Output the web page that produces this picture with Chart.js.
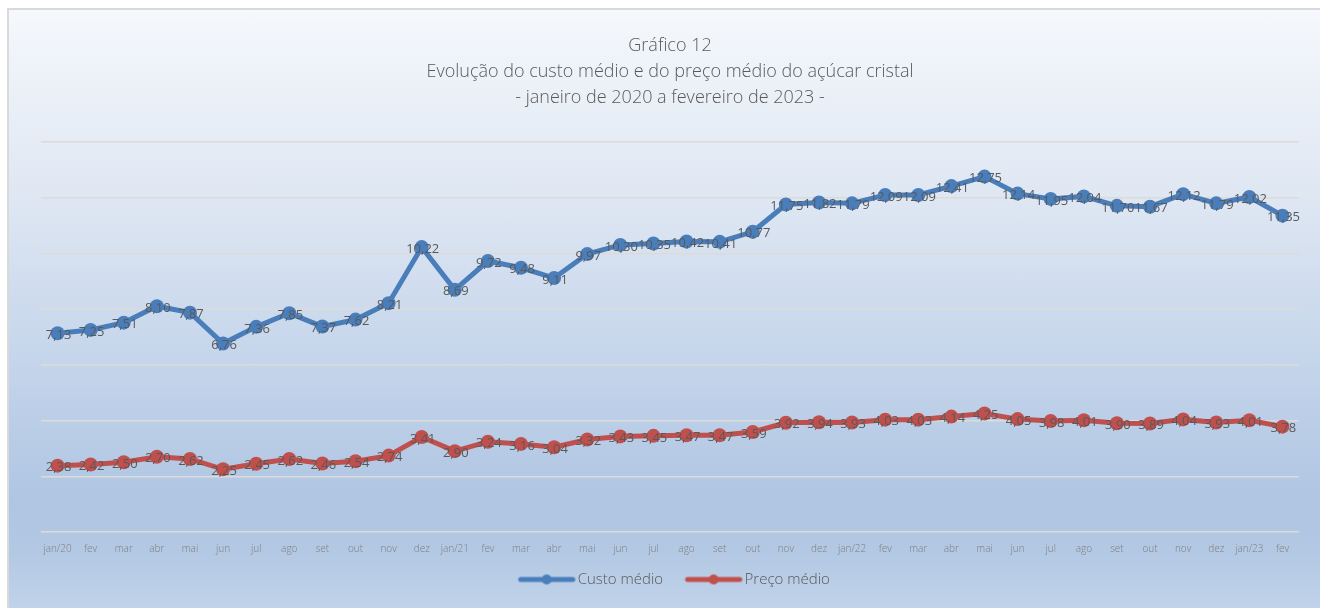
<!DOCTYPE html>
<html>
<head>
<meta charset="utf-8">
<script src="https://cdn.jsdelivr.net/npm/chart.js@4.4.1/dist/chart.umd.min.js"></script>
<style>
html,body{margin:0;padding:0;background:#fff;overflow:hidden;}
#frame{position:absolute;left:7px;top:8px;width:1330px;height:620px;border:2px solid #d9d9d9;box-sizing:border-box;
  background:linear-gradient(180deg,#f5f8fc 0%,#dfe7f3 30%,#c2d3ea 60%,#afc5e2 80%,#b3c8e3 88%,#c4d6ec 100%);}
#wrap{position:absolute;left:0;top:0;width:1320px;height:608px;}
</style>
</head>
<body>
<div id="frame"></div>
<div id="wrap"><canvas id="chart" width="1320" height="608"></canvas></div>
<script>
// meses jan/20 .. fev/23
const labels=['jan/20','fev','mar','abr','mai','jun','jul','ago','set','out','nov','dez',
  'jan/21','fev','mar','abr','mai','jun','jul','ago','set','out','nov','dez',
  'jan/22','fev','mar','abr','mai','jun','jul','ago','set','out','nov','dez',
  'jan/23','fev'];
const custoMedio=[7.13,7.25,7.51,8.10,7.87,6.76,7.36,7.85,7.37,7.62,8.21,10.22,
  8.69,9.72,9.48,9.11,9.97,10.30,10.35,10.42,10.41,10.77,11.75,11.82,
  11.79,12.09,12.09,12.41,12.75,12.14,11.95,12.04,11.70,11.67,12.12,11.79,
  12.02,11.35];
const precoMedio=[2.38,2.42,2.50,2.70,2.62,2.25,2.45,2.62,2.46,2.54,2.74,3.41,
  2.90,3.24,3.16,3.04,3.32,3.43,3.45,3.47,3.47,3.59,3.92,3.94,
  3.93,4.03,4.03,4.14,4.25,4.05,3.98,4.01,3.90,3.89,4.04,3.93,
  4.01,3.78];
const titleLines=['Gráfico 12','Evolução do custo médio e do preço médio do açúcar cristal','- janeiro de 2020 a fevereiro de 2023 -'];

const BLUE='#4a7ebb',RED='#c0504d';
const FONT='"Open Sans", sans-serif';

// legend symbol: line with a marker in the middle (transparent margin on the left for spacing)
function legendIcon(color){
  const c=document.createElement('canvas');c.width=71;c.height=14;
  const g=c.getContext('2d');
  g.strokeStyle=color;g.lineWidth=5;g.lineCap='round';
  g.beginPath();g.moveTo(16,7);g.lineTo(68,7);g.stroke();
  g.fillStyle=color;g.beginPath();g.arc(42,7,5,0,Math.PI*2);g.fill();
  return c;
}
const icons=[legendIcon(BLUE),legendIcon(RED)];

// rótulos de dados
const valueLabels={
  id:'valueLabels',
  afterDatasetsDraw(chart){
    const ctx=chart.ctx;
    ctx.save();
    ctx.font='400 13px '+FONT;
    ctx.fillStyle='#595959';
    ctx.textAlign='center';ctx.textBaseline='middle';
    chart.data.datasets.forEach((ds,i)=>{
      chart.getDatasetMeta(i).data.forEach((pt,j)=>{
        ctx.fillText(ds.data[j].toFixed(2).replace('.',','),pt.x+1,pt.y+2);
      });
    });
    ctx.restore();
  }
};

new Chart(document.getElementById('chart'),{
  type:'line',
  data:{
    labels,
    datasets:[
      {label:'Custo médio',data:custoMedio,borderColor:BLUE,backgroundColor:BLUE,borderWidth:5,
        pointRadius:7,pointBackgroundColor:BLUE,pointBorderColor:BLUE,pointBorderWidth:0,tension:0},
      {label:'Preço médio',data:precoMedio,borderColor:RED,backgroundColor:RED,borderWidth:5,
        pointRadius:7,pointBackgroundColor:RED,pointBorderColor:RED,pointBorderWidth:0,tension:0}
    ]
  },
  options:{
    responsive:false,
    animation:false,
    layout:{padding:{left:41,right:21,top:20,bottom:11}},
    plugins:{
      title:{display:true,text:titleLines,color:'#595959',font:{family:FONT,size:18,weight:'300',lineHeight:1.44},padding:{top:13,bottom:31}},
      legend:{position:'bottom',
        labels:{usePointStyle:true,pointStyleWidth:60,padding:14,color:'#595959',font:{family:FONT,size:15,weight:'300'},
          generateLabels(chart){
            return Chart.defaults.plugins.legend.labels.generateLabels(chart).map((l,i)=>Object.assign(l,{pointStyle:icons[i]}));
          }}},
      tooltip:{enabled:false}
    },
    scales:{
      x:{offset:true,grid:{display:false},border:{display:false},
        ticks:{color:'#7f7f7f',font:{family:FONT,size:10,weight:'300'},maxRotation:0,autoSkip:false,padding:3}},
      y:{min:0,max:14,border:{display:false},
        ticks:{display:false,stepSize:2},
        grid:{color:'#dcdbd8',lineWidth:1.5,drawTicks:false}}
    }
  },
  plugins:[valueLabels]
});
</script>
</body>
</html>
